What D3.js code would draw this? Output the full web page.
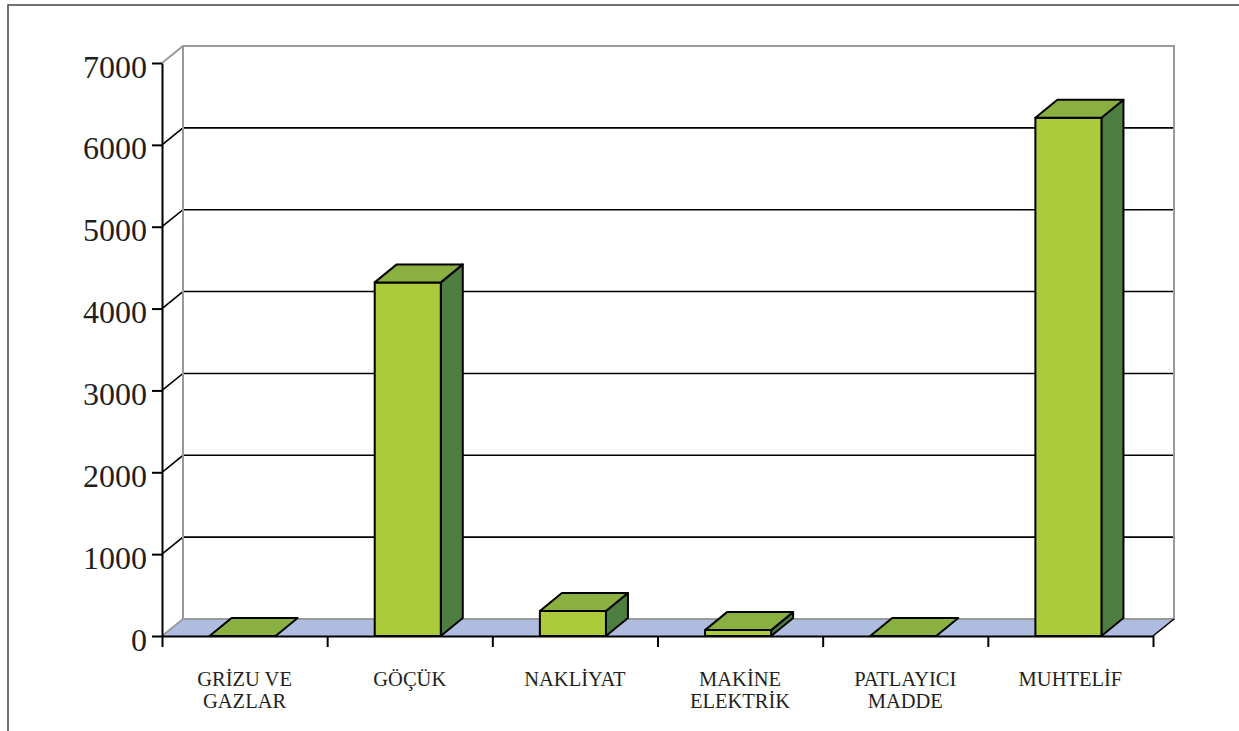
<!DOCTYPE html>
<html>
<head>
<meta charset="utf-8">
<script src="https://cdn.jsdelivr.net/npm/d3@7"></script>
<style>
  html, body { margin: 0; padding: 0; background: #fff; }
  svg { display: block; }
  text { font-family: "Liberation Serif", "Times New Roman", serif; fill: #231f20; }
</style>
</head>
<body>
<div id="chart"></div>
<script>
// data
const categories = [["GRİZU VE", "GAZLAR"], ["GÖÇÜK"], ["NAKLİYAT"], ["MAKİNE", "ELEKTRİK"], ["PATLAYICI", "MADDE"], ["MUHTELİF"]];
const values = [0, 4320, 305, 72, 0, 6330];
const yTicks = [0, 1000, 2000, 3000, 4000, 5000, 6000, 7000];

const width = 1239, height = 731;
const plot = { left: 162, right: 1153, top: 63, bottom: 636 };
const depth = { dx: 21, dy: -17 };     // floor / wall offset
const barDepth = { dx: 22, dy: -18 };

const svg = d3.select("#chart").append("svg")
  .attr("width", width)
  .attr("height", height);

// outer frame
svg.append("rect")
  .attr("x", 8).attr("y", 5)
  .attr("width", width).attr("height", height)
  .attr("fill", "none")
  .attr("stroke", "#444")
  .attr("stroke-width", 1.5);

const y = d3.scaleLinear().domain([0, 7000]).range([plot.bottom, plot.top]);
const xi = d3.scaleLinear().domain([0, categories.length]).range([plot.left, plot.right]);
const x = d3.scaleBand().domain(d3.range(categories.length)).range([plot.left, plot.right]);

const backL = plot.left + depth.dx, backR = plot.right + depth.dx;

// floor
const floorY = y(0);
svg.append("polygon")
  .attr("points", [
    [plot.left, floorY], [backL, floorY + depth.dy],
    [backR, floorY + depth.dy], [plot.right, floorY]
  ].map(p => p.join(",")).join(" "))
  .attr("fill", "#aebcdf");

// gridlines on the back wall
const grid = svg.append("g");
yTicks.filter(t => t > 0 && t < 7000).forEach(t => {
  grid.append("path")
    .attr("d", `M${plot.left},${y(t)}L${backL},${y(t) + depth.dy}H${backR}`)
    .attr("fill", "none")
    .attr("stroke", "#000")
    .attr("stroke-width", 1.6);
});

// back wall edges (gray)
const wallTop = y(7000) + depth.dy, wallBot = floorY + depth.dy;
svg.append("path")
  .attr("d", `M${plot.left},${y(7000)}L${backL},${wallTop}H${backR}V${wallBot}H${backL}V${wallTop}` +
             `M${plot.left},${floorY}L${backL},${wallBot}`)
  .attr("fill", "none")
  .attr("stroke", "#9a9a9a")
  .attr("stroke-width", 2);

// floor right edge
svg.append("path")
  .attr("d", `M${plot.right},${floorY}L${backR},${wallBot}`)
  .attr("stroke", "#000")
  .attr("stroke-width", 1.6);

// x axis with ticks at category boundaries
svg.append("g")
  .attr("transform", `translate(0,${floorY})`)
  .call(d3.axisBottom(xi).tickValues(d3.range(categories.length + 1)).tickFormat("").tickSizeInner(11).tickSizeOuter(0))
  .call(g => g.selectAll("line, path").attr("stroke", "#000").attr("stroke-width", 2));

// y axis
const yAxis = svg.append("g")
  .attr("transform", `translate(${plot.left},0)`)
  .call(d3.axisLeft(y).tickValues(yTicks).tickFormat(d3.format("d")).tickSizeInner(10).tickSizeOuter(0).tickPadding(5))
  .call(g => g.selectAll("line, path").attr("stroke", "#000").attr("stroke-width", 2));
yAxis.attr("font-family", null);
yAxis.selectAll(".tick text")
  .attr("font-size", 32)
  .attr("fill", "#231f20")
  .attr("dy", "0.44em");

// 3D bars
const barW = x.bandwidth() * 0.4;
const bars = svg.append("g");
values.forEach((v, i) => {
  const x0 = x(i) + (x.bandwidth() - barW) / 2 - 2;
  const x1 = x0 + barW;
  const yt = y(v), yb = y(0);
  const g = bars.append("g")
    .attr("stroke", "#000")
    .attr("stroke-width", 2)
    .attr("stroke-linejoin", "round");
  if (yb - yt > 0.5) {
    g.append("polygon")
      .attr("points", [[x1, yt], [x1 + barDepth.dx, yt + barDepth.dy], [x1 + barDepth.dx, yb + barDepth.dy], [x1, yb]].map(p => p.join(",")).join(" "))
      .attr("fill", "#4e7e40");
    g.append("rect")
      .attr("x", x0).attr("y", yt)
      .attr("width", barW).attr("height", yb - yt)
      .attr("fill", "#abcb3b");
  }
  g.append("polygon")
    .attr("points", [[x0, yt], [x0 + barDepth.dx, yt + barDepth.dy], [x1 + barDepth.dx, yt + barDepth.dy], [x1, yt]].map(p => p.join(",")).join(" "))
    .attr("fill", "#89b040");
});

// category labels
const labels = svg.append("g")
  .attr("font-size", 20.5)
  .attr("text-anchor", "middle");
categories.forEach((lines, i) => {
  const t = labels.append("text")
    .attr("x", x(i) + x.bandwidth() / 2)
    .attr("y", 686);
  lines.forEach((ln, j) => {
    t.append("tspan")
      .attr("x", x(i) + x.bandwidth() / 2)
      .attr("dy", j === 0 ? 0 : 22)
      .text(ln);
  });
});
</script>
</body>
</html>
